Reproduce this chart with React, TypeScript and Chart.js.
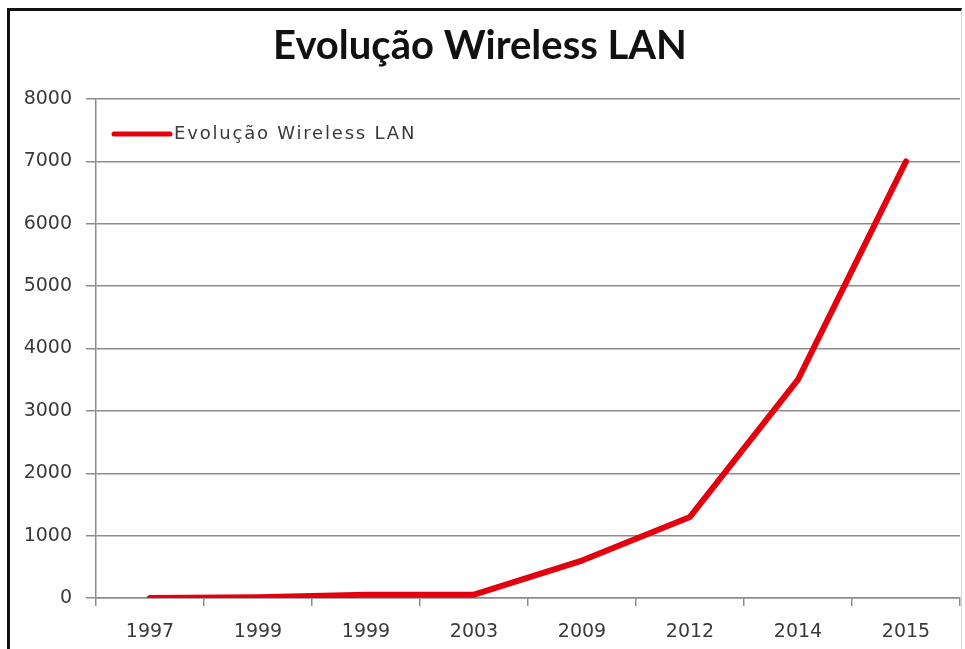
import React, { useEffect, useRef } from "react";
import { Chart, registerables } from "chart.js";

Chart.register(...registerables);

const chartTitle = "Evolução Wireless LAN";
const seriesLabel = "Evolução Wireless LAN";
const years = ["1997", "1999", "1999", "2003", "2009", "2012", "2014", "2015"];
const speeds = [2, 11, 54, 54, 600, 1300, 3500, 7000];
const yMin = 0;
const yMax = 8000;
const yStep = 1000;

const LINE_RED = "#e3000f";
const GRID_GREY = "#8c8c8c";
const TICK_TEXT = "#3a3a3a";

// Legend drawn inside the plot area, top-left, as a short thick line + label
const insideLegend = {
  id: "insideLegend",
  afterDatasetsDraw(chart: Chart) {
    const { ctx, chartArea } = chart;
    const ds = chart.data.datasets[0] as any;
    const x0 = chartArea.left + 18;
    const y0 = chartArea.top + 35;
    ctx.save();
    ctx.strokeStyle = ds.borderColor;
    ctx.lineWidth = 5;
    ctx.lineCap = "round";
    ctx.beginPath();
    ctx.moveTo(x0, y0);
    ctx.lineTo(x0 + 56, y0);
    ctx.stroke();
    ctx.fillStyle = TICK_TEXT;
    ctx.font = "18px 'DejaVu Sans'";
    (ctx as any).letterSpacing = "1.8px";
    ctx.textBaseline = "middle";
    ctx.textAlign = "left";
    ctx.fillText(ds.label, x0 + 60, y0);
    ctx.restore();
  },
};

export default function App() {
  const canvasRef = useRef<HTMLCanvasElement | null>(null);

  useEffect(() => {
    const canvas = canvasRef.current;
    if (!canvas) return;
    const chart = new Chart(canvas, {
      type: "line",
      data: {
        labels: years,
        datasets: [
          {
            label: seriesLabel,
            data: speeds,
            borderColor: LINE_RED,
            backgroundColor: LINE_RED,
            borderWidth: 6,
            pointRadius: 0,
            tension: 0,
            borderJoinStyle: "round",
            borderCapStyle: "round",
          },
        ],
      },
      options: {
        responsive: false,
        animation: false,
        layout: { padding: { left: 0, right: 5, top: 0, bottom: 0 } },
        plugins: {
          legend: { display: false },
          tooltip: { enabled: false },
          title: {
            display: true,
            text: chartTitle,
            color: "#111111",
            font: { family: "Lato, 'Liberation Sans', sans-serif", size: 40, weight: "bold", lineHeight: 1.2 },
            padding: { top: 22, bottom: 29 },
          },
        },
        scales: {
          x: {
            type: "category",
            offset: true,
            grid: {
              offset: true,
              drawOnChartArea: false,
              drawTicks: true,
              tickLength: 8,
              color: GRID_GREY,
              lineWidth: 1.5,
            },
            border: { display: true, color: GRID_GREY, width: 1.5 },
            ticks: {
              color: TICK_TEXT,
              font: { family: "'DejaVu Sans'", size: 19 },
              padding: 15,
              maxRotation: 0,
              autoSkip: false,
            },
            afterFit(scale: any) {
              scale.height = 51;
            },
          },
          y: {
            min: yMin,
            max: yMax,
            grid: {
              color: GRID_GREY,
              lineWidth: 1.5,
              drawTicks: true,
              tickLength: 10,
            },
            border: { display: true, color: GRID_GREY, width: 1.5 },
            ticks: {
              stepSize: yStep,
              color: TICK_TEXT,
              font: { family: "'DejaVu Sans'", size: 19 },
              padding: 14,
              callback: (value: any) => String(value),
            },
            afterFit(scale: any) {
              scale.width = 96;
            },
          },
        },
      },
      plugins: [insideLegend],
    });
    return () => chart.destroy();
  }, []);

  return (
    <div style={{ position: "fixed", left: 0, top: 0, width: 965, height: 649, background: "#ffffff" }}>
      <canvas ref={canvasRef} width={965} height={649} style={{ display: "block" }} />
      <div
        style={{
          position: "absolute",
          left: 7,
          top: 8,
          width: 955,
          height: 660,
          borderTop: "3px solid #111111",
          borderLeft: "3px solid #111111",
          borderRight: "1px solid #d8d8d8",
          boxSizing: "border-box",
          pointerEvents: "none",
        }}
      />
    </div>
  );
}
